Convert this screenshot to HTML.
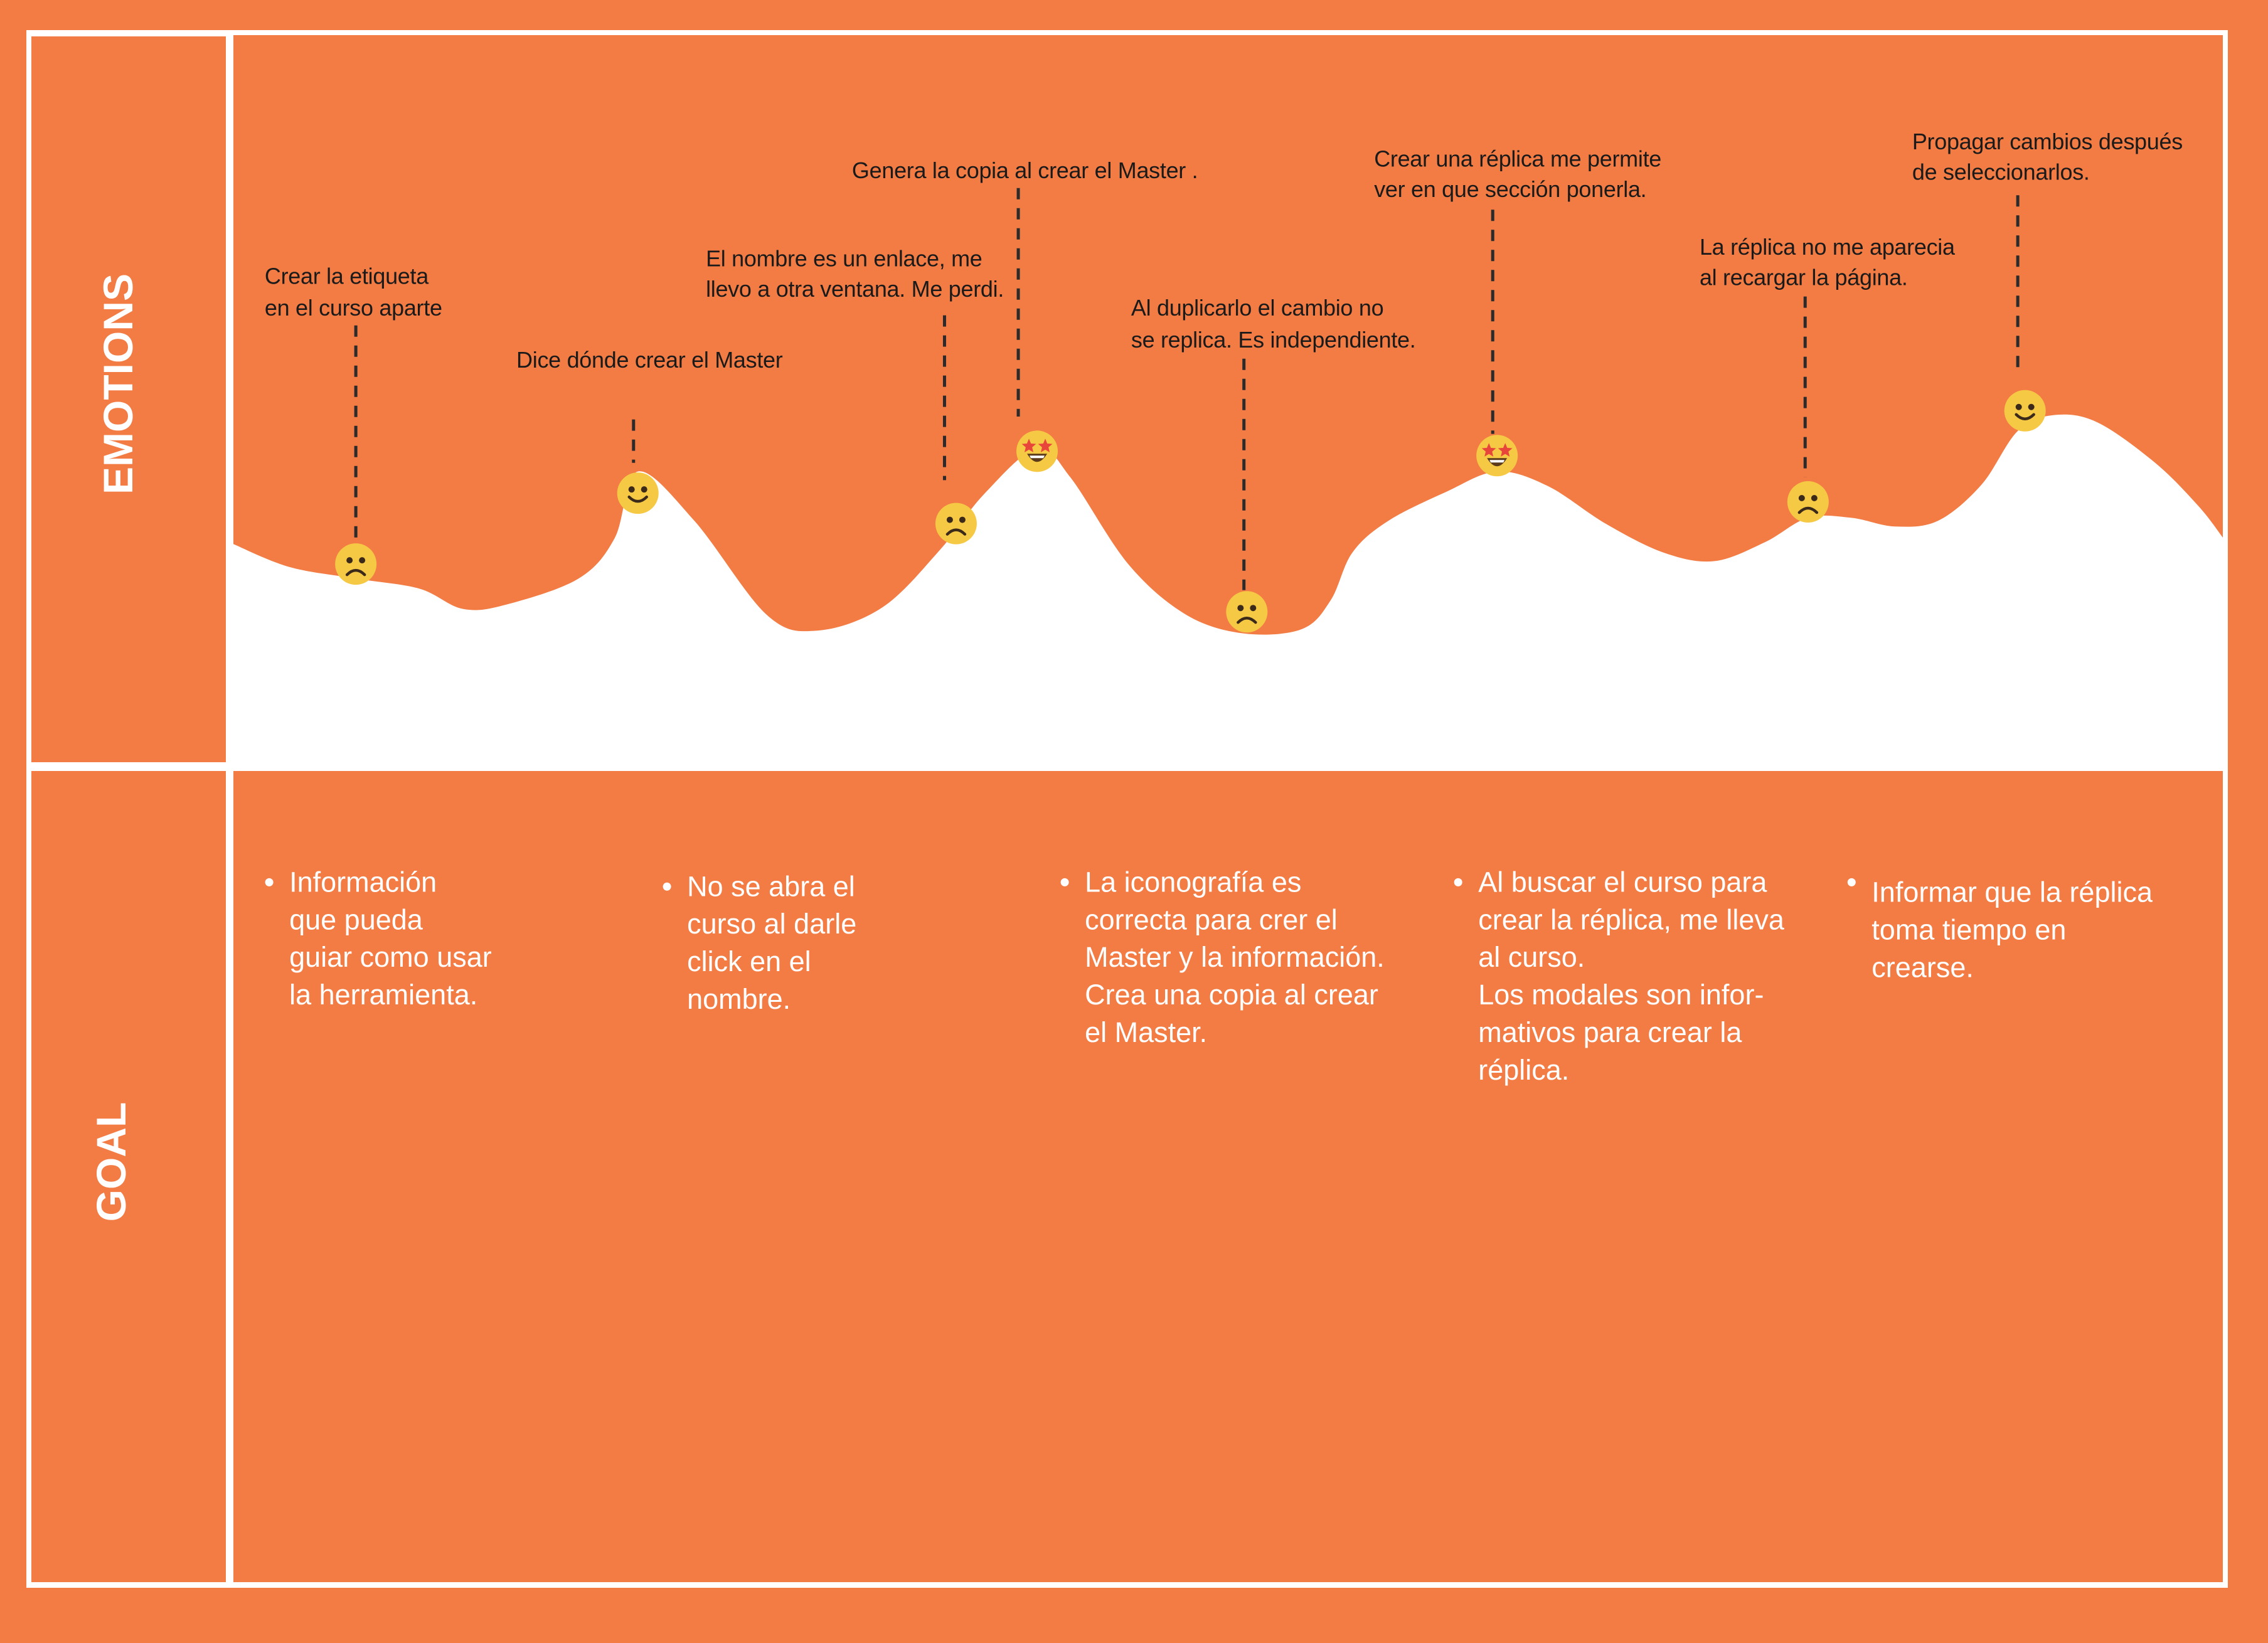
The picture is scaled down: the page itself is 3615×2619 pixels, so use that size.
<!DOCTYPE html>
<html><head><meta charset="utf-8">
<style>
html,body{margin:0;padding:0;background:#F37C45;}
svg{display:block;}
text{font-family:"Liberation Sans",sans-serif;}
</style></head>
<body>
<svg id="map" width="3615" height="2619" viewBox="0 0 3615 2619" xmlns="http://www.w3.org/2000/svg">
  <rect x="0" y="0" width="3615" height="2619" fill="#F37C45"/>
  <rect x="42" y="48" width="3509" height="2483" fill="#fff"/>
  <rect x="50" y="58" width="310" height="1157" fill="#F37C45"/>
  <rect x="50" y="1229" width="310" height="1293" fill="#F37C45"/>
  <rect x="372" y="56" width="3171" height="1173" fill="#F37C45"/>
  <rect x="372" y="1229" width="3171" height="1293" fill="#F37C45"/>
  <text transform="translate(211,612) rotate(-90)" text-anchor="middle" font-size="66" font-weight="bold" fill="#fff">EMOTIONS</text>
  <text transform="translate(200,1852) rotate(-90)" text-anchor="middle" font-size="66" font-weight="bold" fill="#fff">GOAL</text>
  <g id="chart"></g>
  <g id="goals"></g>
</svg>
<script>
// wave curve data (stage position, emotion height) in reference units
const waveX = [161,200,246,290,320,350,400,425,441,480,530,565,610,650,680,717,740,780,820,860,900,920,935,960,1000,1035,1070,1110,1150,1185,1220,1250,1280,1310,1340,1370,1395,1420,1450,1490,1520,1537];
const waveY = [376,392,400,407,421,418,400,372,326,360,425,436,420,380,342,310,330,390,425,438,435,415,382,360,340,326,336,362,382,388,375,358,358,364,360,335,298,287,292,320,350,372];
// emotion points
const stageX = [246,441,661,717,862,1035,1250,1400];
const stageY = [390,341,362,312,423,315,347,284];
const moods = ['sad','happy','sad','star','sad','star','sad','happy'];
const lineX = [246,438,653,704,860,1032,1248,1395];
const lineTop = [225,290,218,130,248,145,205,135];
const lineBot = [375,320,332,288,408,300,330,258];
const noteX = [183,357,488,589,782,950,1175,1322];
const noteY = [[191,213],[249],[179,200],[118],[213,235],[110,131],[171,192],[98,119]];
const notes = [
 ["Crear la etiqueta","en el curso aparte"],
 ["Dice dónde crear el Master"],
 ["El nombre es un enlace, me","llevo a otra ventana. Me perdi."],
 ["Genera la copia al crear el Master ."],
 ["Al duplicarlo el cambio no","se replica. Es independiente."],
 ["Crear una réplica me permite","ver en que sección ponerla."],
 ["La réplica no me aparecia","al recargar la página."],
 ["Propagar cambios después","de seleccionarlos."]
];
const goalX = [200,475,750,1022,1294];
const goalY = [610,613,610,610,617];
const goals = [
 ["Información","que pueda","guiar como usar","la herramienta."],
 ["No se abra el","curso al darle","click en el","nombre."],
 ["La iconografía es","correcta para crer el","Master y la información.","Crea una copia al crear","el Master."],
 ["Al buscar el curso para","crear la réplica, me lleva","al curso.","Los modales son infor-","mativos para crear la","réplica."],
 ["Informar que la réplica","toma tiempo en","crearse."]
];
const K = 3615/1568;
const sx = v => v*K, sy = v => v*K;
const NS = 'http://www.w3.org/2000/svg';
const chart = document.getElementById('chart');
function mk(tag, attrs, parent){const e=document.createElementNS(NS,tag);for(const k in attrs)e.setAttribute(k,attrs[k]);parent.appendChild(e);return e;}

let pts = waveX.map((x,i)=>[sx(x),sy(waveY[i])]);
let d = `M${pts[0][0]},${pts[0][1]}`;
for(let i=0;i<pts.length-1;i++){
  const p0=pts[i-1]||pts[i], p1=pts[i], p2=pts[i+1], p3=pts[i+2]||p2;
  const c1=[p1[0]+(p2[0]-p0[0])/6, p1[1]+(p2[1]-p0[1])/6];
  const c2=[p2[0]-(p3[0]-p1[0])/6, p2[1]-(p3[1]-p1[1])/6];
  d+=` C${c1[0]},${c1[1]} ${c2[0]},${c2[1]} ${p2[0]},${p2[1]}`;
}
d+=` L${sx(1537)},1229 L${sx(161)},1229 Z`;
const wave = mk('path',{d:d,fill:'#fff'},chart);



lineX.forEach((x,i)=>{
  const l = mk('line',{x1:sx(x),x2:sx(x),y1:sy(lineTop[i]),y2:sy(lineBot[i]),stroke:'#2b2b2b','stroke-width':5,'stroke-dasharray':'18 14'},chart);
  
  
});

notes.forEach((lines,i)=>{
  lines.forEach((t,j)=>{
    const tx = mk('text',{x:sx(noteX[i]),y:sy(noteY[i][j])+12,'font-size':36,'letter-spacing':'-0.3',fill:'#1a1a1a'},chart);
    tx.textContent=t;
    
    
  });
});

stageX.forEach((x,i)=>{
  const cx=sx(x), cy=sy(stageY[i]), r=33;
  const g = mk('g',{},chart);
  
  
  mk('circle',{cx:cx,cy:cy,r:r,fill:'#F6C945'},g);
  if(moods[i]==='star'){
    [-13,13].forEach(dx=>{
      const px=cx+dx, py=cy-8, s=12; let p='';
      for(let k=0;k<10;k++){const a=-Math.PI/2+k*Math.PI/5, rr=k%2?s*0.45:s; p+=(px+rr*Math.cos(a))+','+(py+rr*Math.sin(a))+' ';}
      mk('polygon',{points:p,fill:'#E8463A'},g);
    });
    mk('path',{d:`M${cx-16},${cy+4} Q${cx},${cy+30} ${cx+16},${cy+4} Z`,fill:'#5a3a1a'},g);
    mk('path',{d:`M${cx-12},${cy+7} L${cx+12},${cy+7} L${cx+10},${cy+11} L${cx-10},${cy+11} Z`,fill:'#fff'},g);
  } else {
    mk('circle',{cx:cx-10,cy:cy-6,r:5,fill:'#3b2a1a'},g);
    mk('circle',{cx:cx+10,cy:cy-6,r:5,fill:'#3b2a1a'},g);
    const m = moods[i]==='happy' ? `M${cx-14},${cy+6} Q${cx},${cy+20} ${cx+14},${cy+6}` : `M${cx-14},${cy+17} Q${cx},${cy+3} ${cx+14},${cy+17}`;
    mk('path',{d:m,fill:'none',stroke:'#3b2a1a','stroke-width':4.5,'stroke-linecap':'round'},g);
  }
});

const gg = document.getElementById('goals');
goals.forEach((lines,i)=>{
  const b = mk('circle',{cx:sx(goalX[i])-32,cy:sy(goalY[i]<615?goalY[i]:610),r:6.5,fill:'#fff'},gg);
  
  
  lines.forEach((t,j)=>{
    const tx = mk('text',{x:sx(goalX[i]),y:sy(goalY[i]+j*26)+15,'font-size':45,'letter-spacing':'0',fill:'#fff'},gg);
    tx.textContent=t;
    
    
  });
});
</script>
</body></html>
